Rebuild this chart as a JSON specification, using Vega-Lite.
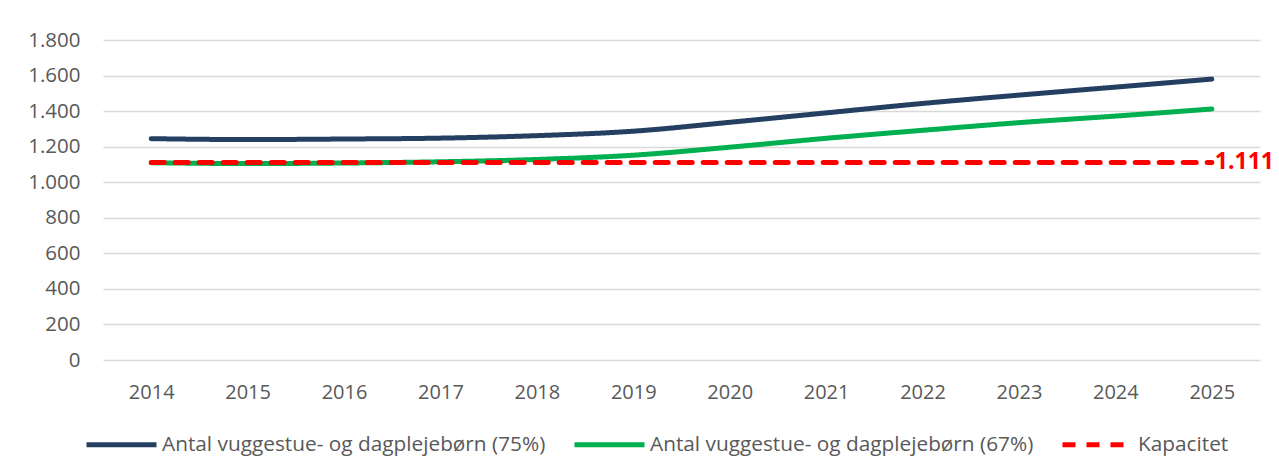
{
  "$schema": "https://vega.github.io/schema/vega-lite/v6.json",
  "width": 1157,
  "height": 320,
  "autosize": {"type": "none"},
  "padding": {"left": 103, "top": 40, "right": 19, "bottom": 116},
  "background": "white",
  "config": {
    "locale": {"number": {"decimal": ",", "thousands": ".", "grouping": [3], "currency": ["", " kr."]}},
    "view": {"stroke": null},
    "font": "Open Sans",
    "axis": {"labelOverlap": false},
    "axisY": {"labelOverlap": false, "labelFlush": false}
  },
  "data": {
    "values": [
      {"year": 2014, "series": "Antal vuggestue- og dagplejebørn (75%)", "value": 1245},
      {"year": 2015, "series": "Antal vuggestue- og dagplejebørn (75%)", "value": 1240},
      {"year": 2016, "series": "Antal vuggestue- og dagplejebørn (75%)", "value": 1243},
      {"year": 2017, "series": "Antal vuggestue- og dagplejebørn (75%)", "value": 1248},
      {"year": 2018, "series": "Antal vuggestue- og dagplejebørn (75%)", "value": 1262},
      {"year": 2019, "series": "Antal vuggestue- og dagplejebørn (75%)", "value": 1287},
      {"year": 2020, "series": "Antal vuggestue- og dagplejebørn (75%)", "value": 1337},
      {"year": 2021, "series": "Antal vuggestue- og dagplejebørn (75%)", "value": 1390},
      {"year": 2022, "series": "Antal vuggestue- og dagplejebørn (75%)", "value": 1443},
      {"year": 2023, "series": "Antal vuggestue- og dagplejebørn (75%)", "value": 1490},
      {"year": 2024, "series": "Antal vuggestue- og dagplejebørn (75%)", "value": 1535},
      {"year": 2025, "series": "Antal vuggestue- og dagplejebørn (75%)", "value": 1580},
      {"year": 2014, "series": "Antal vuggestue- og dagplejebørn (67%)", "value": 1110},
      {"year": 2015, "series": "Antal vuggestue- og dagplejebørn (67%)", "value": 1105},
      {"year": 2016, "series": "Antal vuggestue- og dagplejebørn (67%)", "value": 1108},
      {"year": 2017, "series": "Antal vuggestue- og dagplejebørn (67%)", "value": 1115},
      {"year": 2018, "series": "Antal vuggestue- og dagplejebørn (67%)", "value": 1128},
      {"year": 2019, "series": "Antal vuggestue- og dagplejebørn (67%)", "value": 1152},
      {"year": 2020, "series": "Antal vuggestue- og dagplejebørn (67%)", "value": 1197},
      {"year": 2021, "series": "Antal vuggestue- og dagplejebørn (67%)", "value": 1247},
      {"year": 2022, "series": "Antal vuggestue- og dagplejebørn (67%)", "value": 1292},
      {"year": 2023, "series": "Antal vuggestue- og dagplejebørn (67%)", "value": 1335},
      {"year": 2024, "series": "Antal vuggestue- og dagplejebørn (67%)", "value": 1372},
      {"year": 2025, "series": "Antal vuggestue- og dagplejebørn (67%)", "value": 1412},
      {"year": 2014, "series": "Kapacitet", "value": 1111},
      {"year": 2015, "series": "Kapacitet", "value": 1111},
      {"year": 2016, "series": "Kapacitet", "value": 1111},
      {"year": 2017, "series": "Kapacitet", "value": 1111},
      {"year": 2018, "series": "Kapacitet", "value": 1111},
      {"year": 2019, "series": "Kapacitet", "value": 1111},
      {"year": 2020, "series": "Kapacitet", "value": 1111},
      {"year": 2021, "series": "Kapacitet", "value": 1111},
      {"year": 2022, "series": "Kapacitet", "value": 1111},
      {"year": 2023, "series": "Kapacitet", "value": 1111},
      {"year": 2024, "series": "Kapacitet", "value": 1111},
      {"year": 2025, "series": "Kapacitet", "value": 1111}
    ]
  },
  "encoding": {
    "x": {
      "field": "year", "type": "ordinal",
      "scale": {"type": "point", "padding": 0.5},
      "axis": {"title": null, "labelAngle": 0, "grid": false, "domain": false, "ticks": false, "labelPadding": 22, "labelFontSize": 20, "labelColor": "#595959", "labelOverlap": false}
    },
    "y": {
      "field": "value", "type": "quantitative",
      "scale": {"domain": [0, 1800]},
      "axis": {"title": null, "values": [0, 200, 400, 600, 800, 1000, 1200, 1400, 1600, 1800], "format": ",d", "grid": true, "gridColor": "#D9D9D9", "gridWidth": 1.5, "domain": false, "ticks": false, "labelPadding": 23, "labelFontSize": 20.5, "labelColor": "#595959", "labelOverlap": false, "labelSeparation": 0, "labelBound": false}
    }
  },
  "layer": [
    {
      "mark": {"type": "line", "interpolate": "monotone", "strokeWidth": 5, "strokeCap": "round"},
      "encoding": {
        "color": {
          "field": "series", "type": "nominal",
          "scale": {"domain": ["Antal vuggestue- og dagplejebørn (75%)", "Antal vuggestue- og dagplejebørn (67%)", "Kapacitet"], "range": ["#243F60", "#00B050", "#FF0000"]},
          "legend": {"orient": "none", "legendX": -19, "legendY": 367, "direction": "horizontal", "columns": 3, "title": null, "symbolType": "stroke", "symbolSize": 4900, "symbolStrokeWidth": 5, "labelFontSize": 20.8, "labelColor": "#595959", "labelLimit": 0, "columnPadding": 18, "labelOffset": 3}
        },
        "strokeDash": {
          "field": "series", "type": "nominal",
          "scale": {"domain": ["Antal vuggestue- og dagplejebørn (75%)", "Antal vuggestue- og dagplejebørn (67%)", "Kapacitet"], "range": [[1, 0], [1, 0], [13, 11]]},
          "legend": {"orient": "none", "legendX": -19, "legendY": 367, "direction": "horizontal", "columns": 3, "title": null, "symbolType": "stroke", "symbolSize": 4900, "symbolStrokeWidth": 5, "labelFontSize": 20.8, "labelColor": "#595959", "labelLimit": 0, "columnPadding": 18, "labelOffset": 3}
        }
      }
    },
    {
      "transform": [{"filter": "datum.series === 'Kapacitet' && datum.year === 2025"}],
      "mark": {"type": "text", "align": "left", "baseline": "middle", "dx": 3, "fontWeight": "bold", "fontSize": 23, "color": "#FF0000"},
      "encoding": {
        "text": {"field": "value", "type": "quantitative", "format": ",d"}
      }
    }
  ]
}
